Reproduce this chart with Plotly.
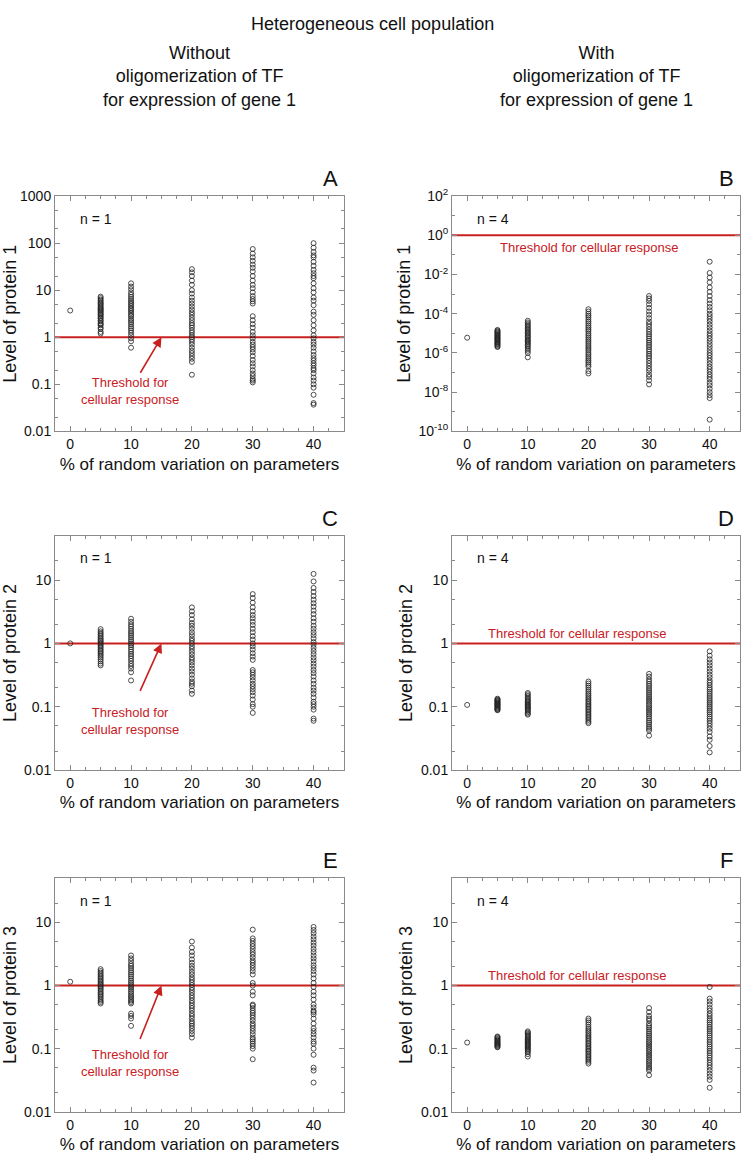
"""Heterogeneous cell population: protein levels vs % random variation on parameters."""

import plotly.graph_objects as go

# % of random variation on parameters (column positions)
pct = [0, 5, 10, 20, 30, 40]

# Panel A: protein 1, n = 1
a0 = [3.7]
a5 = [1.2, 1.3, 1.5, 1.6, 1.8, 1.9, 2.0, 2.2, 2.3, 2.5, 2.6, 2.8, 3.0, 3.1, 3.3, 3.5,
      3.7, 3.9, 4.1, 4.3, 4.6, 4.9, 5.2, 5.5, 5.9, 6.3, 6.8, 7.3]
a10 = [0.6, 0.82, 0.95, 1.1, 1.25, 1.4, 1.55, 1.7, 1.9, 2.1, 2.3, 2.5, 2.8, 3.0, 3.3, 3.6,
       3.9, 4.2, 4.6, 5.0, 5.4, 5.9, 6.5, 7.2, 8.0, 9.0, 10.5, 12, 14]
a20 = [0.16, 0.3, 0.35, 0.4, 0.46, 0.52, 0.6, 0.7, 0.8, 0.9, 1.0, 1.1, 1.25, 1.4, 1.6, 1.8,
       2.0, 2.3, 2.6, 3.0, 3.4, 3.9, 4.5, 5.2, 6.0, 7.0, 8.5, 10, 13, 16, 20, 24, 28]
a30 = [0.11, 0.12, 0.13, 0.15, 0.17, 0.2, 0.24, 0.28, 0.33, 0.4, 0.48, 0.55, 0.62, 0.7, 0.8,
       0.95, 1.1, 1.3, 1.6, 1.9, 2.3, 2.8, 5.2, 5.8, 6.5, 7.5, 9, 11, 13, 16, 20, 25, 30, 35,
       42, 50, 60, 75]
a40 = [0.037, 0.04, 0.06, 0.085, 0.1, 0.12, 0.14, 0.17, 0.2, 0.22, 0.25, 0.28, 0.32, 0.36,
       0.42, 0.5, 0.6, 0.7, 0.8, 0.95, 1.1, 1.4, 1.8, 2.3, 3.0, 3.5, 4.8, 6.0, 7.0, 9.0, 11,
       14, 18, 20, 23, 27, 33, 40, 50, 55, 65, 80, 100]

# Panel B: protein 1, n = 4
b0 = [6e-6]
b5 = [2e-6, 2.2e-6, 2.5e-6, 2.8e-6, 3e-6, 3.3e-6, 3.6e-6, 4e-6, 4.4e-6, 4.8e-6, 5.2e-6,
      5.7e-6, 6.2e-6, 6.8e-6, 7.5e-6, 8.2e-6, 9e-6, 1e-5, 1.1e-5, 1.2e-5, 1.35e-5, 1.5e-5]
b10 = [6e-7, 1e-6, 1.3e-6, 1.6e-6, 2e-6, 2.4e-6, 2.8e-6, 3.3e-6, 3.8e-6, 4.4e-6, 5e-6, 6e-6,
       7e-6, 8e-6, 9.5e-6, 1.1e-5, 1.3e-5, 1.5e-5, 1.8e-5, 2.1e-5, 2.5e-5, 3e-5, 3.6e-5,
       4.4e-5]
b20 = [9e-8, 1.2e-7, 2e-7, 2.5e-7, 3.2e-7, 4e-7, 5e-7, 6.3e-7, 8e-7, 1e-6, 1.3e-6, 1.6e-6,
       2e-6, 2.5e-6, 3.2e-6, 4e-6, 5e-6, 6.3e-6, 8e-6, 1e-5, 1.3e-5, 1.6e-5, 2e-5, 2.5e-5,
       3.2e-5, 4e-5, 5e-5, 6.5e-5, 8e-5, 1e-4, 1.3e-4, 1.7e-4]
b30 = [2.5e-8, 4e-8, 6e-8, 8e-8, 1.2e-7, 1.6e-7, 2.2e-7, 3e-7, 4e-7, 5.5e-7, 7e-7, 9e-7,
       1.2e-6, 1.5e-6, 2e-6, 2.6e-6, 3.3e-6, 4.2e-6, 5.5e-6, 7e-6, 9e-6, 1.2e-5, 1.6e-5,
       2.2e-5, 3e-5, 4e-5, 6e-5, 9e-5, 1.3e-4, 2e-4, 3e-4, 4.5e-4, 6e-4, 8e-4]
b40 = [4e-10, 5e-9, 7e-9, 1e-8, 1.5e-8, 2.2e-8, 3e-8, 4.5e-8, 6e-8, 8e-8, 1.1e-7, 1.5e-7,
       2e-7, 2.8e-7, 4e-7, 5.5e-7, 7.5e-7, 1e-6, 1.4e-6, 2e-6, 2.8e-6, 4e-6, 5.5e-6, 7.5e-6,
       1e-5, 1.4e-5, 2e-5, 2.8e-5, 4e-5, 5.5e-5, 7.5e-5, 1e-4, 1.5e-4, 2.2e-4, 3.3e-4, 5e-4,
       8e-4, 1.3e-3, 2.2e-3, 4e-3, 7e-3, 1.2e-2, 4.5e-2]

# Panel C: protein 2, n = 1
c0 = [1.0]
c5 = [0.45, 0.48, 0.52, 0.56, 0.6, 0.64, 0.68, 0.72, 0.76, 0.8, 0.85, 0.9, 0.95, 1.0, 1.05,
      1.1, 1.16, 1.22, 1.3, 1.38, 1.46, 1.55, 1.68]
c10 = [0.26, 0.35, 0.4, 0.44, 0.48, 0.53, 0.58, 0.63, 0.68, 0.74, 0.8, 0.87, 0.94, 1.0, 1.08,
       1.16, 1.25, 1.35, 1.45, 1.56, 1.7, 1.85, 2.0, 2.2, 2.45]
c20 = [0.16, 0.18, 0.21, 0.23, 0.25, 0.28, 0.32, 0.36, 0.4, 0.45, 0.5, 0.55, 0.6, 0.67, 0.74,
       0.82, 0.9, 1.0, 1.1, 1.2, 1.35, 1.5, 1.7, 1.9, 2.1, 2.4, 2.8, 3.2, 3.7]
c30 = [0.08, 0.1, 0.11, 0.13, 0.15, 0.17, 0.19, 0.21, 0.23, 0.26, 0.29, 0.32, 0.35, 0.38,
       0.55, 0.62, 0.7, 0.8, 0.9, 1.0, 1.15, 1.3, 1.5, 1.7, 1.95, 2.2, 2.5, 2.8, 3.2, 3.7,
       4.4, 5.2, 6.0]
c40 = [0.06, 0.065, 0.09, 0.1, 0.11, 0.12, 0.14, 0.16, 0.18, 0.2, 0.23, 0.26, 0.3, 0.34,
       0.38, 0.43, 0.48, 0.54, 0.6, 0.68, 0.76, 0.85, 0.95, 1.05, 1.2, 1.35, 1.5, 1.7, 1.9,
       2.2, 2.5, 2.9, 3.3, 3.8, 4.3, 4.9, 5.6, 6.5, 7.5, 9.5, 12.5]

# Panel D: protein 2, n = 4
d0 = [0.107]
d5 = [0.088, 0.09, 0.092, 0.095, 0.097, 0.1, 0.102, 0.105, 0.107, 0.11, 0.112, 0.115, 0.118,
      0.121, 0.124, 0.127, 0.13, 0.134]
d10 = [0.075, 0.078, 0.082, 0.086, 0.09, 0.093, 0.097, 0.1, 0.104, 0.108, 0.112, 0.117,
       0.122, 0.127, 0.133, 0.14, 0.148, 0.157, 0.165]
d20 = [0.055, 0.058, 0.062, 0.066, 0.07, 0.074, 0.078, 0.083, 0.088, 0.093, 0.098, 0.104,
       0.11, 0.117, 0.124, 0.132, 0.14, 0.15, 0.16, 0.172, 0.185, 0.2, 0.215, 0.232, 0.25]
d30 = [0.035, 0.042, 0.045, 0.048, 0.052, 0.056, 0.06, 0.065, 0.07, 0.075, 0.08, 0.086,
       0.092, 0.098, 0.105, 0.112, 0.12, 0.128, 0.137, 0.147, 0.158, 0.17, 0.183, 0.197,
       0.213, 0.23, 0.25, 0.27, 0.3, 0.33]
d40 = [0.019, 0.024, 0.03, 0.034, 0.04, 0.045, 0.05, 0.055, 0.06, 0.065, 0.07, 0.076, 0.082,
       0.088, 0.095, 0.102, 0.11, 0.118, 0.127, 0.137, 0.148, 0.16, 0.173, 0.187, 0.2, 0.22,
       0.24, 0.26, 0.29, 0.32, 0.36, 0.4, 0.45, 0.5, 0.56, 0.64, 0.75]

# Panel E: protein 3, n = 1
e0 = [1.15]
e5 = [0.52, 0.55, 0.58, 0.62, 0.66, 0.7, 0.74, 0.78, 0.83, 0.88, 0.93, 0.98, 1.03, 1.08,
      1.14, 1.2, 1.27, 1.34, 1.42, 1.5, 1.6, 1.7, 1.82]
e10 = [0.23, 0.3, 0.33, 0.36, 0.52, 0.55, 0.58, 0.62, 0.66, 0.7, 0.75, 0.8, 0.86, 0.92, 0.98,
       1.05, 1.12, 1.2, 1.3, 1.4, 1.5, 1.62, 1.75, 1.9, 2.05, 2.2, 2.45, 2.7, 3.0]
e20 = [0.15, 0.17, 0.19, 0.21, 0.23, 0.25, 0.27, 0.3, 0.33, 0.36, 0.4, 0.44, 0.48, 0.53,
       0.58, 0.64, 0.7, 0.77, 0.85, 0.93, 1.02, 1.12, 1.23, 1.35, 1.5, 1.65, 1.85, 2.05, 2.3,
       2.6, 3.0, 3.4, 4.0, 5.0]
e30 = [0.068, 0.1, 0.11, 0.12, 0.13, 0.14, 0.15, 0.17, 0.19, 0.21, 0.23, 0.25, 0.28, 0.31,
       0.34, 0.37, 0.4, 0.44, 0.48, 0.5, 0.7, 0.8, 1.0, 1.1, 1.5, 1.7, 1.9, 2.1, 2.3, 2.5,
       2.8, 3.1, 3.4, 3.8, 4.2, 4.6, 5.1, 5.6, 7.7]
e40 = [0.029, 0.045, 0.05, 0.08, 0.1, 0.12, 0.13, 0.15, 0.17, 0.19, 0.21, 0.25, 0.3, 0.35,
       0.38, 0.4, 0.45, 0.5, 0.6, 0.7, 0.8, 0.95, 1.1, 1.3, 1.5, 1.7, 1.9, 2.1, 2.4, 2.7, 3.0,
       3.4, 3.8, 4.3, 4.8, 5.4, 6.0, 6.8, 7.6, 8.5]

# Panel F: protein 3, n = 4
f0 = [0.125]
f5 = [0.105, 0.108, 0.111, 0.114, 0.117, 0.12, 0.123, 0.126, 0.13, 0.134, 0.138, 0.142,
      0.147, 0.152, 0.156]
f10 = [0.075, 0.082, 0.088, 0.092, 0.096, 0.1, 0.104, 0.108, 0.112, 0.116, 0.12, 0.125,
       0.13, 0.135, 0.14, 0.146, 0.152, 0.158, 0.165, 0.172, 0.18, 0.188]
f20 = [0.058, 0.062, 0.066, 0.07, 0.074, 0.078, 0.083, 0.088, 0.093, 0.098, 0.104, 0.11,
       0.117, 0.124, 0.132, 0.14, 0.149, 0.158, 0.168, 0.18, 0.192, 0.205, 0.22, 0.24, 0.26,
       0.28, 0.3]
f30 = [0.038, 0.045, 0.048, 0.051, 0.055, 0.059, 0.063, 0.067, 0.072, 0.077, 0.082, 0.088,
       0.094, 0.1, 0.107, 0.114, 0.122, 0.13, 0.139, 0.149, 0.16, 0.172, 0.185, 0.2, 0.215,
       0.23, 0.25, 0.28, 0.3, 0.33, 0.38, 0.44]
f40 = [0.024, 0.032, 0.036, 0.04, 0.045, 0.05, 0.055, 0.06, 0.066, 0.072, 0.078, 0.085,
       0.092, 0.1, 0.108, 0.117, 0.127, 0.138, 0.15, 0.162, 0.175, 0.19, 0.205, 0.22, 0.24,
       0.26, 0.28, 0.3, 0.33, 0.36, 0.4, 0.44, 0.5, 0.56, 0.62, 0.95]

threshold = 1.0

FONT = "Liberation Sans, Arial, Helvetica, sans-serif"
RED = "#c8201f"
AXIS = "#8a8a8a"
W, H = 745, 1167

# pixel boxes of the six plot areas: (left, right, top, bottom)
col_px = [(55, 344), (452, 740)]
row_px = [(189, 428), (534, 772), (882, 1119)]

panels = [
    dict(letter="A", cols=[a0, a5, a10, a20, a30, a40], n=1, protein=1),
    dict(letter="B", cols=[b0, b5, b10, b20, b30, b40], n=4, protein=1),
    dict(letter="C", cols=[c0, c5, c10, c20, c30, c40], n=1, protein=2),
    dict(letter="D", cols=[d0, d5, d10, d20, d30, d40], n=4, protein=2),
    dict(letter="E", cols=[e0, e5, e10, e20, e30, e40], n=1, protein=3),
    dict(letter="F", cols=[f0, f5, f10, f20, f30, f40], n=4, protein=3),
]

fig = go.Figure()
annotations = []

for i, p in enumerate(panels):
    r, c = divmod(i, 2)
    k = "" if i == 0 else str(i + 1)
    xa, ya = "x" + k, "y" + k
    left, right = col_px[c]
    top, bottom = row_px[r]

    xs, ys = [], []
    for x, vals in zip(pct, p["cols"]):
        xs += [x] * len(vals)
        ys += vals

    fig.add_trace(go.Scatter(
        x=[-2.5, 45], y=[threshold, threshold], mode="lines",
        line=dict(color=RED, width=2), xaxis=xa, yaxis=ya,
        showlegend=False, hoverinfo="skip",
    ))
    fig.add_trace(go.Scatter(
        x=xs, y=ys, mode="markers",
        marker=dict(symbol="circle-open", size=5, color="#222", line=dict(width=0.8)),
        xaxis=xa, yaxis=ya, showlegend=False,
    ))

    if p["letter"] == "B":
        yrange = [-10, 2]
        tickvals = [1e-10, 1e-8, 1e-6, 1e-4, 1e-2, 1, 1e2]
        ticktext = ["10<sup>-10</sup>", "10<sup>-8</sup>", "10<sup>-6</sup>", "10<sup>-4</sup>",
                    "10<sup>-2</sup>", "10<sup>0</sup>", "10<sup>2</sup>"]
        minor = dict(ticks="inside", ticklen=3, tickcolor=AXIS,
                     tickvals=[1e-9, 1e-7, 1e-5, 1e-3, 1e-1, 1e1])
    elif p["letter"] == "A":
        yrange = [-2, 3]
        tickvals = [0.01, 0.1, 1, 10, 100, 1000]
        ticktext = ["0.01", "0.1", "1", "10", "100", "1000"]
        minor = dict(ticks="inside", ticklen=3, tickcolor=AXIS, dtick="D2")
    else:
        yrange = [-2, 1.699]
        tickvals = [0.01, 0.1, 1, 10]
        ticktext = ["0.01", "0.1", "1", "10"]
        minor = dict(ticks="inside", ticklen=3, tickcolor=AXIS, dtick="D2")

    fig.layout["xaxis" + k] = dict(
        domain=[left / W, right / W], anchor=ya, range=[-2.5, 45],
        tickvals=[0, 10, 20, 30, 40], ticks="inside", ticklen=5, tickcolor=AXIS,
        minor=dict(ticks="inside", ticklen=3, tickcolor=AXIS, dtick=2.5),
        showline=True, linecolor=AXIS, linewidth=1, mirror="allticks",
        showgrid=False, zeroline=False,
        tickfont=dict(size=14, color="#111"),
        title=dict(text="% of random variation on parameters",
                   font=dict(size=17, color="#111"), standoff=6),
    )
    fig.layout["yaxis" + k] = dict(
        domain=[1 - bottom / H, 1 - top / H], anchor=xa, type="log", range=yrange,
        tickmode="array", tickvals=tickvals, ticktext=ticktext,
        ticks="inside", ticklen=5, tickcolor=AXIS, minor=minor,
        showline=True, linecolor=AXIS, linewidth=1, mirror="allticks",
        showgrid=False, zeroline=False,
        tickfont=dict(size=14, color="#111"),
        title=dict(text=f"Level of protein {p['protein']}",
                   font=dict(size=18, color="#111"), standoff=3),
    )

    # panel letter
    annotations.append(dict(
        text=p["letter"], x=(right - 14) / W, y=1 - (top - 18) / H,
        xref="paper", yref="paper", showarrow=False, xanchor="center", yanchor="middle",
        font=dict(size=22, color="#111"),
    ))
    # n = ...
    annotations.append(dict(
        text=f"n = {p['n']}", x=0.08, y=1 - 23 / (bottom - top),
        xref=xa + " domain", yref=ya + " domain", showarrow=False,
        xanchor="left", yanchor="middle", font=dict(size=14, color="#111"),
    ))

    if p["n"] == 1:
        yfrac = {"A": 0.17, "C": 0.21, "E": 0.21}[p["letter"]]
        ay = {"A": 37, "C": 49, "E": 55}[p["letter"]]
        annotations.append(dict(
            text="Threshold for<br>cellular response", x=0.26, y=yfrac,
            xref=xa + " domain", yref=ya + " domain", showarrow=False,
            xanchor="center", yanchor="middle", font=dict(size=13, color=RED),
        ))
        annotations.append(dict(
            text="", x=15, y=0, xref=xa, yref=ya, showarrow=True,
            ax=-22, ay=ay, arrowhead=2, arrowsize=1.2, arrowwidth=1.6, arrowcolor=RED,
            standoff=0,
        ))
    else:
        xfrac, yfrac = {"B": (0.476, 0.782), "D": (0.434, 0.584), "F": (0.434, 0.582)}[p["letter"]]
        annotations.append(dict(
            text="Threshold for cellular response", x=xfrac, y=yfrac,
            xref=xa + " domain", yref=ya + " domain", showarrow=False,
            xanchor="center", yanchor="middle", font=dict(size=13, color=RED),
        ))

# titles
annotations.append(dict(
    text="Heterogeneous cell population", x=0.5, y=1 - 14 / H, xref="paper", yref="paper",
    showarrow=False, font=dict(size=18, color="#111"), xanchor="center", yanchor="middle",
))
for cx, first in [((55 + 344) / 2, "Without"), ((452 + 740) / 2, "With")]:
    annotations.append(dict(
        text=f"{first}<br>oligomerization of TF<br>for expression of gene 1",
        x=cx / W, y=1 - 68 / H, xref="paper", yref="paper", showarrow=False,
        font=dict(size=18, color="#111"), xanchor="center", yanchor="middle", align="center",
    ))

fig.update_layout(
    width=W, height=H, margin=dict(l=0, r=0, t=0, b=0),
    paper_bgcolor="white", plot_bgcolor="white",
    font=dict(family=FONT, color="#111"),
    annotations=annotations, showlegend=False,
)

# drop the browser's default body margin so the figure fills the window exactly
fig.write_html("out.html", config={"displayModeBar": False},
               post_script="document.body.style.margin = '0';")
